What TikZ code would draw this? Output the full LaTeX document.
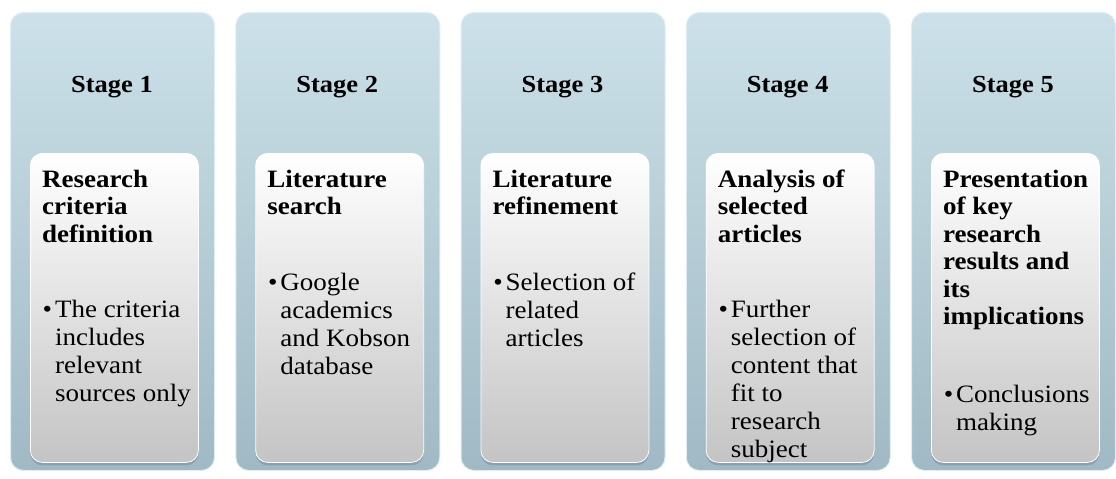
\documentclass[tikz,border=0pt]{standalone}
\usepackage{fontspec}
\setmainfont{Liberation Serif}[FakeStretch=1.08]
\usetikzlibrary{shadows}

\definecolor{panelTop}{RGB}{204,225,233}
\definecolor{panelBot}{RGB}{160,185,196}
\definecolor{panelEdge}{RGB}{224,237,242}
\definecolor{cardTop}{RGB}{255,255,255}
\definecolor{cardBot}{RGB}{196,196,196}
\definecolor{shadowc}{RGB}{95,120,132}

% first-line strut: fixes the top of a text block 20pt above its first baseline
\newcommand\firstln{\rule{0pt}{20pt}}
\newcommand\bul{\llap{\textbullet\hspace{3pt}}}

\tikzset{
  panel/.style={anchor=north west, inner sep=0pt, minimum width=204pt,
    minimum height=458pt, rounded corners=13pt, top color=panelTop,
    bottom color=panelBot, draw=panelEdge, line width=1pt},
  card/.style={anchor=north west, inner sep=0pt, minimum width=168pt,
    minimum height=309pt, rounded corners=12pt, top color=cardTop,
    bottom color=cardBot, draw=white, line width=0.8pt,
    drop shadow={opacity=0.35, shadow xshift=0pt, shadow yshift=-3pt, fill=shadowc}},
  stagelabel/.style={anchor=base, inner sep=0pt,
    font=\fontsize{24.5}{27}\selectfont\bfseries},
  heading/.style={anchor=north west, inner sep=0pt, align=left,
    font=\fontsize{25}{27.5}\selectfont\bfseries},
  bullets/.style={anchor=north west, inner sep=0pt, align=left,
    font=\fontsize{25}{28}\selectfont},
}

\begin{document}
\begin{tikzpicture}[x=1pt,y=-1pt]
\useasboundingbox (0,0) rectangle (1116,479);

% stage panels
\node[panel] (o1) at (10,12) {};
\node[panel] (o2) at (235.25,12) {};
\node[panel] (o3) at (460.5,12) {};
\node[panel] (o4) at (685.75,12) {};
\node[panel] (o5) at (911,12) {};

% inner cards
\node[card] (c1) at (30,153) {};
\node[card] (c2) at (255.25,153) {};
\node[card] (c3) at (480.5,153) {};
\node[card] (c4) at (705.75,153) {};
\node[card] (c5) at (931,153) {};

% stage labels
\node[stagelabel] (s1) at (112,92) {Stage 1};
\node[stagelabel] (s2) at (337.25,92) {Stage 2};
\node[stagelabel] (s3) at (562.5,92) {Stage 3};
\node[stagelabel] (s4) at (787.75,92) {Stage 4};
\node[stagelabel] (s5) at (1013,92) {Stage 5};

% card headings
\node[heading] (h1) at (42,167) {\firstln Research\\criteria\\definition};
\node[heading] (h2) at (267.25,167) {\firstln Literature\\search};
\node[heading] (h3) at (492.5,167) {\firstln Literature\\refinement};
\node[heading] (h4) at (717.75,167) {\firstln Analysis of\\selected\\articles};
\node[heading] (h5) at (943,167) {\firstln Presentation\\of key\\research\\results and\\its\\implications};

% bullet texts
\node[bullets] (b1) at (55,297) {\firstln\bul The criteria\\includes\\relevant\\sources only};
\node[bullets] (b2) at (280.25,270) {\firstln\bul Google\\academics\\and Kobson\\database};
\node[bullets] (b3) at (505.5,270) {\firstln\bul Selection of\\related\\articles};
\node[bullets] (b4) at (730.75,297) {\firstln\bul Further\\selection of\\content that\\fit to\\research\\subject};
\node[bullets] (b5) at (956,382) {\firstln\bul Conclusions\\making};
\end{tikzpicture}
\end{document}
